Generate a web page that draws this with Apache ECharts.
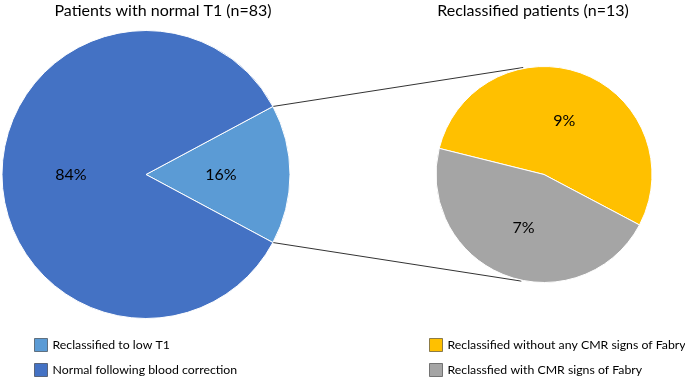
<!DOCTYPE html>
<html><head><meta charset="utf-8">
<script src="https://cdn.jsdelivr.net/npm/echarts@6/dist/echarts.min.js"></script>
<style>html,body{margin:0;padding:0;background:#fff}#c{width:685px;height:377px}</style>
</head><body><div id="c"></div>
<script>
// ---- data ----
const leftTitle = 'Patients with normal T1 (n=83)';
const rightTitle = 'Reclassified patients (n=13)';
const leftCategories = ['Reclassified to low T1', 'Normal following blood correction'];
const leftValues = [13, 70];
const leftLabels = ['16%', '84%'];
const rightCategories = ['Reclassified without any CMR signs of Fabry', 'Reclassfied with CMR signs of Fabry'];
const rightValues = [7, 6];
const rightLabels = ['9%', '7%'];

// ---- style / layout ----
const leftColors = ['#5B9BD5', '#4472C4'];
const rightColors = ['#FFC000', '#A5A5A5'];
const FONT = 'Lato, sans-serif';
const C1 = [146, 174.5], R1 = 144;
const C2 = [544, 174.5], R2 = 108;
const rightStart = 166;
const connAngles = [101, -102];

const total = leftValues.reduce((a, b) => a + b, 0);
const halfLow = leftValues[0] / total * 180;
const rad = Math.PI / 180;

function pt(c, r, deg) { return [c[0] + r * Math.cos(deg * rad), c[1] - r * Math.sin(deg * rad)]; }
const lTop = pt(C1, R1, halfLow), lBot = pt(C1, R1, -halfLow);
const rTop = pt(C2, R2 + 1, connAngles[0]), rBot = pt(C2, R2 + 1, connAngles[1]);

const textBase = { fontFamily: FONT, color: '#000', fontWeight: 'normal' };

function pieSeries(names, values, labels, colors, center, radius, start) {
  return {
    type: 'pie', center: center, radius: radius, startAngle: start, clockwise: true,
    avoidLabelOverlap: false, silent: true, animation: false,
    data: names.map((n, i) => ({ name: n, value: values[i], itemStyle: { color: colors[i] } })),
    label: Object.assign({ show: true, position: 'inner', formatter: p => labels[p.dataIndex], fontSize: 16 }, textBase),
    labelLine: { show: false },
    itemStyle: { borderColor: '#fff', borderWidth: 1 },
    emphasis: { disabled: true }
  };
}

function legendFor(names, left) {
  return {
    data: names, left: left, top: 338, orient: 'vertical', padding: 0,
    itemWidth: 13, itemHeight: 13, itemGap: 11, icon: 'rect', selectedMode: false,
    itemStyle: { borderColor: 'rgba(0,0,0,0.45)', borderWidth: 1 },
    textStyle: Object.assign({ fontSize: 12.3 }, textBase)
  };
}

const chart = echarts.init(document.getElementById('c'), null, { renderer: 'canvas' });
chart.setOption({
  backgroundColor: '#fff',
  animation: false,
  title: [
    { text: leftTitle, left: 163, top: 3, textAlign: 'center', padding: 0, textStyle: Object.assign({ fontSize: 16 }, textBase) },
    { text: rightTitle, left: 533, top: 3, textAlign: 'center', padding: 0, textStyle: Object.assign({ fontSize: 16 }, textBase) }
  ],
  legend: [legendFor(leftCategories, 34), legendFor(rightCategories, 429)],
  series: [
    pieSeries(leftCategories, leftValues, leftLabels, leftColors, C1, R1, halfLow),
    pieSeries(rightCategories, rightValues, rightLabels, rightColors, C2, R2, rightStart)
  ],
  graphic: [
    { type: 'line', silent: true, shape: { x1: lTop[0], y1: lTop[1], x2: rTop[0], y2: rTop[1] }, style: { stroke: '#333', lineWidth: 1 } },
    { type: 'line', silent: true, shape: { x1: lBot[0], y1: lBot[1], x2: rBot[0], y2: rBot[1] }, style: { stroke: '#333', lineWidth: 1 } }
  ]
});
</script>
</body></html>
